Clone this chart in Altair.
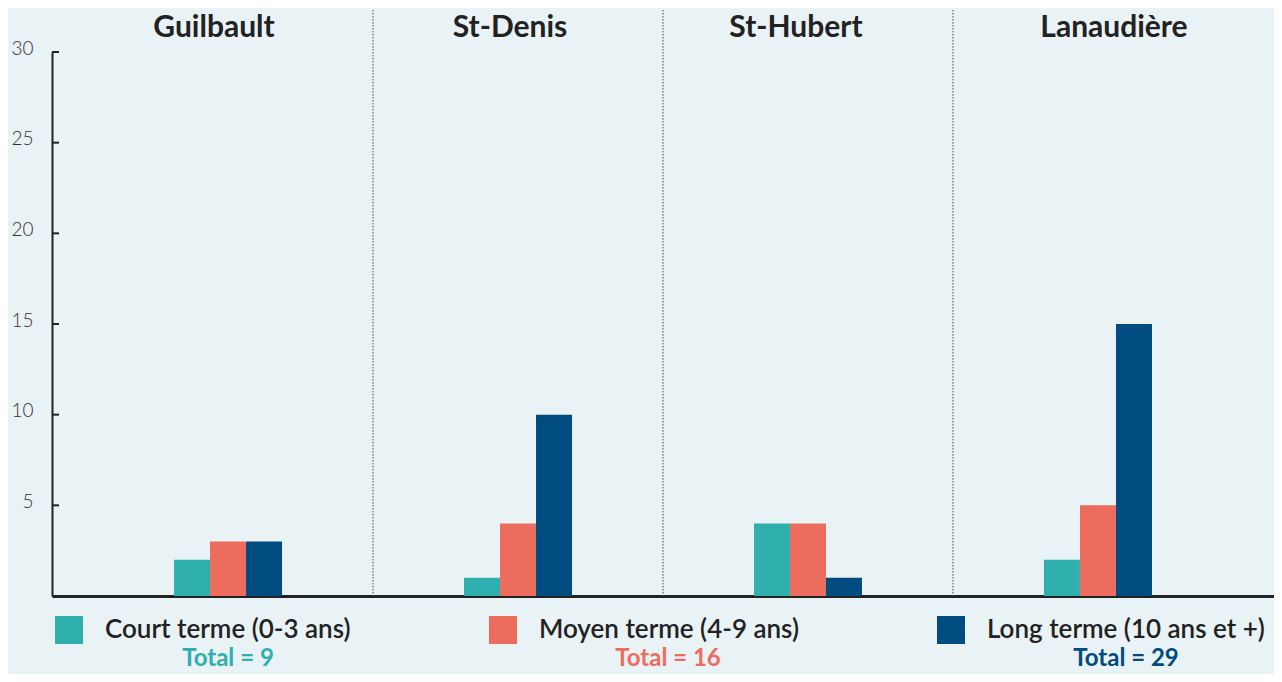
import altair as alt
import pandas as pd

# ---- data ----
regions = ["Guilbault", "St-Denis", "St-Hubert", "Lanaudière"]
categories = ["Court terme (0-3 ans)", "Moyen terme (4-9 ans)", "Long terme (10 ans et +)"]
court = [2, 1, 4, 2]
moyen = [3, 4, 4, 5]
long_terme = [3, 10, 1, 15]
y_ticks = [5, 10, 15, 20, 25, 30]
colors = ["#2fb0ae", "#ec6d5e", "#004c80"]

rows = []
for cat, vals in zip(categories, [court, moyen, long_terme]):
    for r, v in zip(regions, vals):
        rows.append({"region": r, "cat": cat, "value": v})
df = pd.DataFrame(rows)
totals = df.groupby("cat", sort=False)["value"].sum().reset_index()
totals["label"] = "Total = " + totals["value"].astype(str)

# ---- layout / style ----
W, H = 1222, 544
FONT = "Lato"
INK = "#222222"
total_x = [176, 616, 1074]
title_dx = [-14, -8, -12, 16]

x_scale = alt.Scale(domain=regions, paddingInner=0, paddingOuter=0.107)
y_scale = alt.Scale(domain=[0, 30], nice=False)
color_scale = alt.Scale(domain=categories, range=colors)

x_axis = alt.Axis(title=None, labels=False, ticks=False, grid=False,
                  domain=True, domainColor=INK, domainWidth=3)
y_axis = alt.Axis(title=None, values=y_ticks, ticks=False, grid=False,
                  labelFont=FONT, labelFontSize=19, labelFontWeight=300,
                  labelColor="#333333", labelPadding=19, labelBaseline="middle",
                  labelOffset=-4, domainColor=INK, domainWidth=2)
legend = alt.Legend(title=None, orient="none", direction="horizontal",
                    legendX=3, legendY=564, symbolType="square", symbolSize=784,
                    symbolStrokeWidth=0, symbolOpacity=1,
                    labelFont=FONT, labelFontSize=26, labelFontWeight=600,
                    labelColor=INK, labelOffset=22, columnPadding=138,
                    labelLimit=0, labelBaseline="middle")

bars = alt.Chart(df).mark_bar().encode(
    x=alt.X("region:N", scale=x_scale, axis=x_axis, sort=regions),
    xOffset=alt.XOffset("cat:N", sort=categories,
                        scale=alt.Scale(range=[91, 199], paddingInner=0, paddingOuter=0)),
    y=alt.Y("value:Q", scale=y_scale, axis=y_axis),
    color=alt.Color("cat:N", scale=color_scale, sort=categories, legend=legend),
)

title_layers = []
for reg, dx in zip(regions, title_dx):
    title_layers.append(
        alt.Chart(pd.DataFrame({"region": regions})).transform_filter(
            alt.datum.region == reg
        ).mark_text(
            font=FONT, fontSize=30, fontWeight="bold", color=INK,
            baseline="middle", dx=dx
        ).encode(
            x=alt.X("region:N", scale=x_scale, axis=x_axis, sort=regions),
            y=alt.value(-24),
            text="region:N",
        )
    )

separators = alt.Chart(pd.DataFrame({"region": regions[1:]})).mark_rule(
    color="#444444", strokeWidth=1, strokeDash=[1.5, 1.5]
).encode(
    x=alt.X("region:N", scale=x_scale, axis=x_axis, sort=regions, bandPosition=0),
    y=alt.value(-42),
    y2=alt.value(H),
)

yticks = alt.Chart(pd.DataFrame({"v": y_ticks})).mark_rule(
    color=INK, strokeWidth=2
).encode(
    y=alt.Y("v:Q", scale=y_scale, axis=y_axis),
    x=alt.value(0),
    x2=alt.value(7),
)

total_layers = []
for cat, tx in zip(categories, total_x):
    total_layers.append(
        alt.Chart(totals).transform_filter(alt.datum.cat == cat).mark_text(
            font=FONT, fontSize=24, fontWeight="bold", baseline="middle", align="center"
        ).encode(
            x=alt.value(tx),
            y=alt.value(607),
            text="label:N",
            color=alt.Color("cat:N", scale=color_scale, sort=categories, legend=legend),
        )
    )

chart = alt.layer(separators, bars, yticks, *title_layers, *total_layers).properties(
    width=W,
    height=H,
    autosize=alt.AutoSizeParams(type="none"),
    padding={"left": 44, "top": 44, "right": 0, "bottom": 666 - 44 - H},
    background="#e9f2f5",
).configure_view(stroke=None)

chart.save("out.html", embed_options={"renderer": "svg", "actions": False})
